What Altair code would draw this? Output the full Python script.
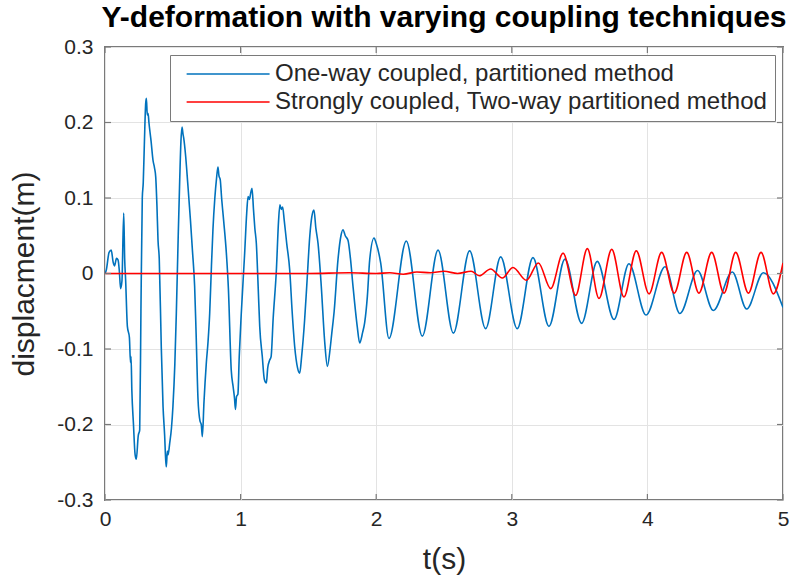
import altair as alt
import pandas as pd

TITLE = "Y-deformation with varying coupling techniques"
SERIES = ["One-way coupled, partitioned method",
          "Strongly coupled, Two-way partitioned method"]
COLORS = ["#0072BD", "#FF0000"]
X_TICKS = [0, 1, 2, 3, 4, 5]
Y_TICKS = [-0.3, -0.2, -0.1, 0.0, 0.1, 0.2, 0.3]
X_TITLE = "t(s)"
Y_TITLE = "displacment(m)"

one_way_t = [0.0, 0.01, 0.03, 0.046, 0.06, 0.07, 0.085, 0.096, 0.105, 0.115, 0.125,
             0.138, 0.145, 0.152, 0.165, 0.18, 0.188, 0.192, 0.198, 0.21, 0.222,
             0.231, 0.245, 0.256, 0.265, 0.275, 0.282, 0.29, 0.3, 0.305, 0.312,
             0.318, 0.324, 0.34, 0.354, 0.365, 0.374, 0.383, 0.391, 0.4, 0.415,
             0.428, 0.44, 0.447, 0.452, 0.46, 0.465, 0.477, 0.49, 0.501, 0.515,
             0.526, 0.54, 0.551, 0.56, 0.568, 0.575, 0.58, 0.595, 0.61, 0.63,
             0.645, 0.661, 0.672, 0.686, 0.7, 0.71, 0.718, 0.73, 0.747, 0.76,
             0.772, 0.785, 0.796, 0.81, 0.822, 0.833, 0.84, 0.85, 0.86, 0.875,
             0.895, 0.91, 0.931, 0.945, 0.955, 0.962, 0.97, 0.98, 0.99, 1.005,
             1.03, 1.045, 1.055, 1.065, 1.075, 1.084, 1.095, 1.105, 1.116, 1.13,
             1.141, 1.16, 1.175, 1.19, 1.2, 1.214, 1.225, 1.24, 1.264, 1.28,
             1.29, 1.3, 1.31, 1.322, 1.34, 1.362, 1.38, 1.399, 1.42, 1.436,
             1.45, 1.472, 1.49, 1.51, 1.525, 1.541, 1.555, 1.571, 1.595, 1.62,
             1.64, 1.66, 1.672, 1.69, 1.718, 1.74, 1.755, 1.772, 1.792, 1.81,
             1.829, 1.86, 1.878, 1.9, 1.915, 1.935, 1.952, 1.984, 2.0, 2.033,
             2.094, 2.222, 2.34, 2.456, 2.569, 2.689, 2.807, 2.918, 3.04, 3.156,
             3.274, 3.392, 3.515, 3.63, 3.754, 3.864, 3.99, 4.13, 4.24, 4.37,
             4.486, 4.626, 4.732, 4.855, 5.0]
one_way_y = [0.0, 0.005, 0.028, 0.031, 0.015, 0.010, 0.020, 0.018, 0.005, -0.020, -0.010,
             0.080, 0.020, -0.008, -0.070, -0.085, -0.118, -0.110, -0.155, -0.200, -0.240,
             -0.246, -0.215, -0.207, -0.050, 0.100, 0.120, 0.170, 0.225, 0.232, 0.210,
             0.212, 0.200, 0.175, 0.150, 0.140, 0.128, 0.090, 0.044, 0.020, -0.097,
             -0.176, -0.215, -0.245, -0.256, -0.235, -0.240, -0.225, -0.205, -0.176, -0.120,
             -0.053, 0.050, 0.124, 0.175, 0.194, 0.185, 0.180, 0.155, 0.120, 0.071,
             0.030, -0.017, -0.080, -0.167, -0.195, -0.200, -0.216, -0.170, -0.119, -0.090,
             -0.053, 0.010, 0.058, 0.100, 0.125, 0.141, 0.130, 0.124, 0.100, 0.070,
             0.027, -0.020, -0.128, -0.150, -0.165, -0.180, -0.163, -0.160, -0.110, -0.053,
             0.027, 0.080, 0.102, 0.098, 0.107, 0.113, 0.085, 0.060, 0.040, -0.020,
             -0.070, -0.110, -0.140, -0.145, -0.125, -0.115, -0.110, -0.060, 0.005, 0.070,
             0.091, 0.085, 0.088, 0.070, 0.040, 0.005, -0.050, -0.097, -0.125, -0.132,
             -0.110, -0.062, -0.010, 0.049, 0.075, 0.084, 0.060, 0.040, -0.017, -0.090,
             -0.123, -0.100, -0.080, -0.050, 0.018, 0.050, 0.058, 0.050, 0.044, 0.020,
             -0.017, -0.070, -0.092, -0.078, -0.065, -0.030, 0.018, 0.047, 0.040, 0.014,
             -0.086, 0.043, -0.083, 0.031, -0.079, 0.030, -0.073, 0.022, -0.073, 0.021,
             -0.070, 0.019, -0.066, 0.016, -0.061, 0.013, -0.055, 0.009, -0.053, 0.004,
             -0.049, 0.002, -0.047, 0.001, -0.045]

strong_t = [0.0, 1.0, 1.5, 1.8, 2.0, 2.1, 2.2, 2.3, 2.4, 2.5, 2.6, 2.7, 2.76, 2.844,
            2.93, 3.009, 3.107, 3.196, 3.287, 3.378, 3.471, 3.557, 3.643, 3.737, 3.827,
            3.918, 4.012, 4.105, 4.198, 4.29, 4.38, 4.474, 4.565, 4.651, 4.745, 4.838,
            4.929, 5.0]
strong_y = [0.0, 0.0, 0.0, 0.001, 0.0, 0.001, -0.001, 0.002, 0.001, 0.003, 0.0, 0.003,
            -0.003, 0.006, -0.006, 0.008, -0.009, 0.014, -0.020, 0.027, -0.029, 0.033,
            -0.033, 0.032, -0.031, 0.030, -0.027, 0.028, -0.026, 0.028, -0.026, 0.028,
            -0.026, 0.028, -0.026, 0.028, -0.027, 0.014]

FONT = "Liberation Sans"
FRAME = "#7a7a7a"
TEXT = "#262626"
W, H = 678, 453

blue = pd.DataFrame({"t": one_way_t, "y": one_way_y, "series": SERIES[0]})
blue["i"] = range(len(blue))
red = pd.DataFrame({"t": strong_t, "y": strong_y, "series": SERIES[1]})
red["i"] = range(len(red))

x_enc = alt.X("t:Q", scale=alt.Scale(domain=[0, 5], nice=False, zero=False),
              axis=alt.Axis(values=X_TICKS, title=X_TITLE, format="d", grid=True,
                            gridColor="#e3e3e3", domain=False, ticks=False,
                            labelFlush=False,
                            labelFontSize=21, labelPadding=8, labelColor=TEXT,
                            labelFont=FONT, titleFont=FONT, titleFontSize=30,
                            titleFontWeight="normal", titleColor=TEXT, titlePadding=15))
y_enc = alt.Y("y:Q", scale=alt.Scale(domain=[-0.3, 0.3], nice=False, zero=False),
              axis=alt.Axis(values=Y_TICKS, title=Y_TITLE, grid=True,
                            gridColor="#e3e3e3", domain=False, ticks=False,
                            labelFlush=False,
                            labelExpr="replace(format(datum.value, '.1~f'), '\u2212', '-')",
                            labelFontSize=21, labelPadding=12, labelColor=TEXT,
                            labelFont=FONT, titleFont=FONT, titleFontSize=30,
                            titleFontWeight="normal", titleColor=TEXT, titlePadding=17))

color_enc = alt.Color("series:N", scale=alt.Scale(domain=SERIES, range=COLORS),
                      legend=alt.Legend(title=None, orient="none", legendX=65, legendY=8,
                                        direction="vertical", fillColor="white",
                                        strokeColor=FRAME, padding=7,
                                        symbolType="M-1,0H7", symbolSize=430,
                                        symbolStrokeWidth=1.5, symbolOffset=8,
                                        labelFont=FONT, labelFontSize=24,
                                        labelColor=TEXT, labelOffset=66,
                                        rowPadding=4, labelLimit=0))

blue_line = alt.Chart(blue).mark_line(strokeWidth=1.6, interpolate="monotone", clip=True).encode(
    x=x_enc, y=y_enc, color=color_enc, order="i:Q")
red_line = alt.Chart(red).mark_line(strokeWidth=1.6, interpolate="monotone", clip=True).encode(
    x=x_enc, y=y_enc, color=color_enc, order="i:Q")

xt = pd.DataFrame({"t": X_TICKS})
yt = pd.DataFrame({"y": Y_TICKS})
tick_bottom = alt.Chart(xt).mark_rule(color=FRAME, strokeWidth=1.2).encode(
    x=x_enc, y=alt.value(H), y2=alt.value(H - 6))
tick_top = alt.Chart(xt).mark_rule(color=FRAME, strokeWidth=1.2).encode(
    x=x_enc, y=alt.value(0), y2=alt.value(6))
tick_left = alt.Chart(yt).mark_rule(color=FRAME, strokeWidth=1.2).encode(
    y=y_enc, x=alt.value(0), x2=alt.value(6))
tick_right = alt.Chart(yt).mark_rule(color=FRAME, strokeWidth=1.2).encode(
    y=y_enc, x=alt.value(W), x2=alt.value(W - 6))

chart = alt.layer(blue_line, red_line, tick_bottom, tick_top, tick_left, tick_right).properties(
    width=W, height=H,
    title=alt.TitleParams(TITLE, font=FONT, fontSize=30, fontWeight="bold",
                          color="#000000", anchor="middle", offset=3),
    autosize=alt.AutoSizeParams(type="none"),
    padding={"left": 105, "top": 47, "right": 7, "bottom": 82},
    background="white",
).configure_view(stroke=FRAME, strokeWidth=2)

chart.save("out.html", embed_options={"renderer": "svg", "actions": False})
